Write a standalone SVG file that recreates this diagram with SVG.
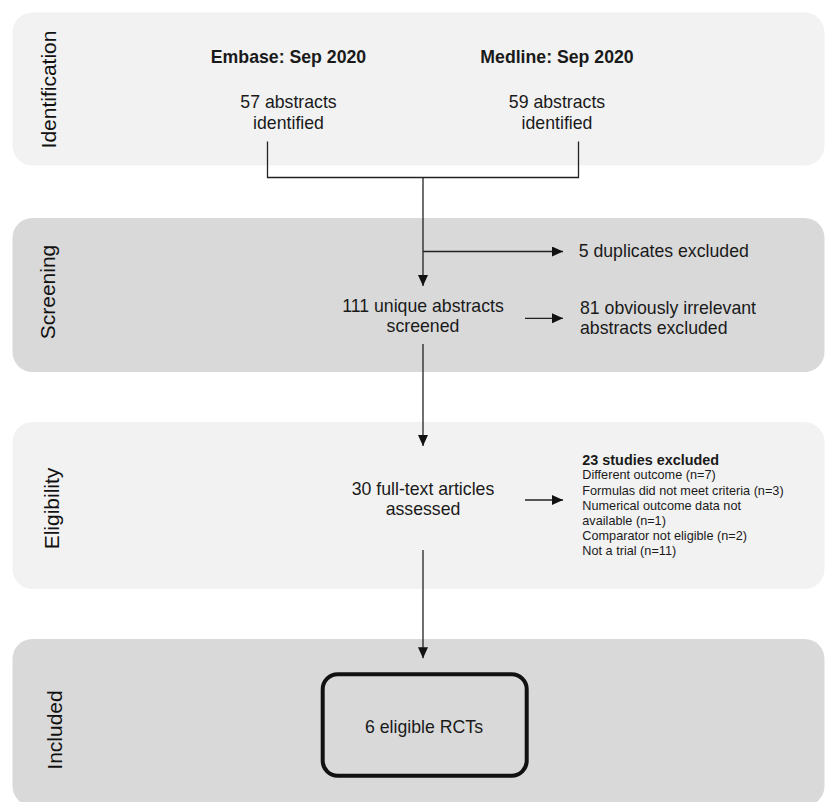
<svg xmlns="http://www.w3.org/2000/svg" width="825" height="802" viewBox="0 0 825 802">
  <style>
    .band-light { fill: #f2f2f2; }
    .band-dark { fill: #d9d9d9; }
    .stage { font-family: "Liberation Sans", Arial, sans-serif; font-size: 21px; fill: #111; }
    .txt { font-family: "Liberation Sans", Arial, sans-serif; font-size: 17.7px; fill: #1a1a1a; }
    .bold { font-weight: bold; }
    .mid { text-anchor: middle; }
    .small { font-family: "Liberation Sans", Arial, sans-serif; font-size: 12.7px; fill: #1a1a1a; }
    .smallhead { font-family: "Liberation Sans", Arial, sans-serif; font-size: 14.4px; font-weight: bold; fill: #1a1a1a; }
    .conn { fill: none; stroke: #222; stroke-width: 1.3; }
  </style>
  <defs>
    <marker id="arrow" markerUnits="userSpaceOnUse" markerWidth="11" markerHeight="10" refX="11" refY="5" orient="auto">
      <path d="M0,0 L11,5 L0,10 z" fill="#111"/>
    </marker>
  </defs>

  <!-- stage bands -->
  <g id="bands">
    <rect class="band-light" x="12.5" y="12.5" width="812" height="153" rx="20"/>
    <rect class="band-dark" x="12.5" y="218" width="812" height="154" rx="20"/>
    <rect class="band-light" x="12.5" y="422" width="812" height="167" rx="20"/>
    <rect class="band-dark" x="12.5" y="639" width="812" height="167" rx="20"/>
  </g>

  <!-- stage labels -->
  <g id="stage-labels">
    <text class="stage mid" transform="translate(56,89.5) rotate(-90)">Identification</text>
    <text class="stage mid" transform="translate(55,292) rotate(-90)">Screening</text>
    <text class="stage mid" transform="translate(58.5,508.5) rotate(-90)">Eligibility</text>
    <text class="stage mid" transform="translate(61.5,730) rotate(-90)">Included</text>
  </g>

  <g id="embase">
    <text class="txt bold mid" x="288.5" y="63.3">Embase: Sep 2020</text>
    <text class="txt mid" x="288.5" y="108.3">57 abstracts</text>
    <text class="txt mid" x="288.5" y="129">identified</text>
  </g>

  <g id="medline">
    <text class="txt bold mid" x="557" y="63.3">Medline: Sep 2020</text>
    <text class="txt mid" x="557" y="108.3">59 abstracts</text>
    <text class="txt mid" x="557" y="129">identified</text>
  </g>

  <g id="duplicates">
    <text class="txt" x="578.7" y="257.3">5 duplicates excluded</text>
  </g>

  <g id="screened">
    <text class="txt mid" x="423" y="311.7">111 unique abstracts</text>
    <text class="txt mid" x="423" y="332.3">screened</text>
  </g>

  <g id="irrelevant">
    <text class="txt" x="580" y="314">81 obviously irrelevant</text>
    <text class="txt" x="580" y="334">abstracts excluded</text>
  </g>

  <g id="fulltext">
    <text class="txt mid" x="423" y="494.5">30 full-text articles</text>
    <text class="txt mid" x="423" y="515">assessed</text>
  </g>

  <g id="excluded-studies">
    <text class="smallhead" x="582.3" y="465">23 studies excluded</text>
    <text class="small" x="582.3" y="479">Different outcome (n=7)</text>
    <text class="small" x="582.3" y="494.5">Formulas did not meet criteria (n=3)</text>
    <text class="small" x="582.3" y="509.5">Numerical outcome data not</text>
    <text class="small" x="582.3" y="525">available (n=1)</text>
    <text class="small" x="582.3" y="540">Comparator not eligible (n=2)</text>
    <text class="small" x="582.3" y="554.5">Not a trial (n=11)</text>
  </g>

  <g id="included-rcts">
    <rect x="322.7" y="674.3" width="204" height="101.4" rx="15" fill="none" stroke="#111" stroke-width="4"/>
    <text class="txt mid" x="424" y="732.7">6 eligible RCTs</text>
  </g>

  <!-- connectors -->
  <g id="connectors">
    <path class="conn" d="M267.5,141.5 V177.5 H578.5 V141.5"/>
    <path class="conn" d="M423,177.5 V286" marker-end="url(#arrow)"/>
    <path class="conn" d="M423,251.5 H563" marker-end="url(#arrow)"/>
    <path class="conn" d="M525,318.3 H563" marker-end="url(#arrow)"/>
    <path class="conn" d="M423,344 V446" marker-end="url(#arrow)"/>
    <path class="conn" d="M525,500 H563" marker-end="url(#arrow)"/>
    <path class="conn" d="M423,550 V658.3" marker-end="url(#arrow)"/>
  </g>
</svg>
